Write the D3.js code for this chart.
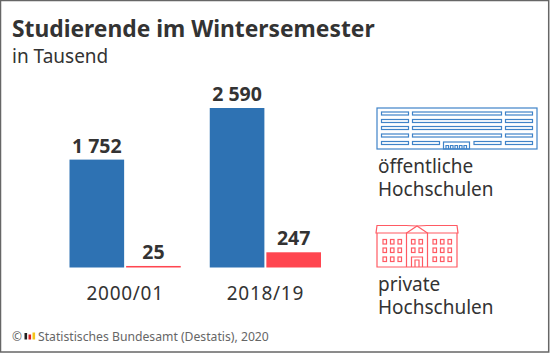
<!DOCTYPE html>
<html>
<head>
<meta charset="utf-8">
<script src="https://cdn.jsdelivr.net/npm/d3@7"></script>
<style>
    html, body { margin: 0; padding: 0; background: #fff; }
    svg { display: block; }
    text { font-family: "Noto Sans", sans-serif; fill: #333; }
</style>
</head>
<body>
<svg id="chart"></svg>
<script>
const years = ['2000/01', '2018/19']
const seriesKeys = ['oeffentlich', 'privat']
const oeffentlich = [1752, 2590]
const privat = [25, 247]
const valueLabels = [['1 752', '25'], ['2 590', '247']]
const seriesColors = ['#2e72b3', '#ff4650']

const width = 550, height = 353
const baseline = 267.5

const svg = d3.select('#chart').attr('width', width).attr('height', height)

// frame
svg.append('rect')
    .attr('x', 0.5).attr('y', 0.5)
    .attr('width', 548.2).attr('height', 351.5)
    .attr('fill', '#fff').attr('stroke', '#666').attr('stroke-width', 1.5)

svg.append('text').attr('x', 12).attr('y', 36.5)
    .attr('font-size', 22.8).attr('font-weight', 700).text('Studierende im Wintersemester')
svg.append('text').attr('x', 12).attr('y', 63)
    .attr('font-size', 19).text('in Tausend')

const x0 = d3.scaleBand().domain(years).range([69.5, 321]).paddingInner(0.2068).paddingOuter(0)
const x1 = d3.scaleBand().domain(seriesKeys).range([0, x0.bandwidth()]).paddingInner(0.035)
const y = d3.scaleLinear().domain([0, 2590]).range([baseline, 108])

const groups = svg.selectAll('.year')
    .data(years)
    .join('g')
    .attr('class', 'year')
    .attr('transform', d => `translate(${x0(d)},0)`)

const cells = groups.selectAll('.cell')
    .data((d, i) => [
        {key: 'oeffentlich', value: oeffentlich[i], label: valueLabels[i][0], color: seriesColors[0]},
        {key: 'privat', value: privat[i], label: valueLabels[i][1], color: seriesColors[1]}
    ])
    .join('g')
    .attr('class', 'cell')

cells.append('rect')
    .attr('x', d => x1(d.key))
    .attr('y', d => y(d.value))
    .attr('width', x1.bandwidth())
    .attr('height', d => baseline - y(d.value))
    .attr('fill', d => d.color)

cells.append('text')
    .attr('x', d => x1(d.key) + x1.bandwidth() / 2)
    .attr('y', d => y(d.value) - 7)
    .attr('text-anchor', 'middle')
    .attr('font-size', 19.5)
    .attr('font-weight', 700)
    .text(d => d.label)

const xAxis = d3.axisBottom(x0).tickSize(0).tickPadding(0)
const xAxisG = svg.append('g').attr('transform', `translate(0,${baseline})`).call(xAxis)
xAxisG.select('.domain').remove()
xAxisG.selectAll('text').attr('font-size', 19).attr('y', 32).attr('dy', 0)
    .attr('letter-spacing', 0.7)
    .style('font-family', '"Noto Sans", sans-serif').style('fill', '#333')

// icon: oeffentliche Hochschulen
const blue = svg.append('g').attr('fill', 'none').attr('stroke', '#3f83c8').attr('stroke-width', 1.2)
blue.append('rect').attr('x', 377).attr('y', 108).attr('width', 160).attr('height', 41)
;[112, 119.5, 126.5, 134].forEach(t => {
    [[381.5, 27], [412.5, 89], [505.5, 27]].forEach(c => {
        blue.append('rect').attr('x', c[0]).attr('y', t).attr('width', c[1]).attr('height', 3)
    })
})
;[[381.5, 27], [412.5, 27], [474, 27], [505.5, 27]].forEach(c => {
    blue.append('rect').attr('x', c[0]).attr('y', 141.5).attr('width', c[1]).attr('height', 3)
})
blue.append('rect').attr('x', 443.5).attr('y', 142).attr('width', 26).attr('height', 7)
;[446, 450.5, 455, 459.5, 464].forEach(wx => {
    blue.append('path').attr('d', `M${wx},149V145.5H${wx + 2.5}V149`)
})

// icon: private Hochschulen
const red = svg.append('g').attr('fill', 'none').attr('stroke', '#ff5a63').attr('stroke-width', 1.2)
red.append('path').attr('d', 'M376,233L377,225.5H406L417,226L427,225.5H457L458,233Z')
red.append('path').attr('d', 'M377,233V267H457V233')
red.append('path').attr('d', 'M406.5,267V233L417,226L427.5,233V267')
red.append('path').attr('d', 'M411.5,267V257H422.5V267M415,267V260H419V267')
;[239.5, 248, 257].forEach((wy, row) => {
    [383, 390.5, 398, 411.5, 419, 433, 440.5, 448].forEach(wx => {
        if (row === 2 && (wx === 411.5 || wx === 419)) return
        red.append('rect').attr('x', wx).attr('y', wy).attr('width', 3.5).attr('height', 4.5)
    })
})

const legendText = [[378, 173, 'öffentliche'], [378, 196, 'Hochschulen'], [378, 291, 'private'], [378, 314, 'Hochschulen']]
legendText.forEach(t => {
    svg.append('text').attr('x', t[0]).attr('y', t[1]).attr('font-size', 19).text(t[2])
})

// footer
svg.append('text').attr('x', 12).attr('y', 341).attr('font-size', 12).style('fill', '#666').text('©')
;[['#222', 6.5], ['#d22', 5], ['#f5c518', 7]].reduce((wx, b) => {
    svg.append('rect').attr('x', wx).attr('y', 339.5 - b[1]).attr('width', 2.6).attr('height', b[1]).attr('fill', b[0])
    return wx + 4
}, 24.5)
svg.append('text').attr('x', 38).attr('y', 341).attr('font-size', 12.2).style('fill', '#666')
    .text('Statistisches Bundesamt (Destatis), 2020')
</script>
</body>
</html>
